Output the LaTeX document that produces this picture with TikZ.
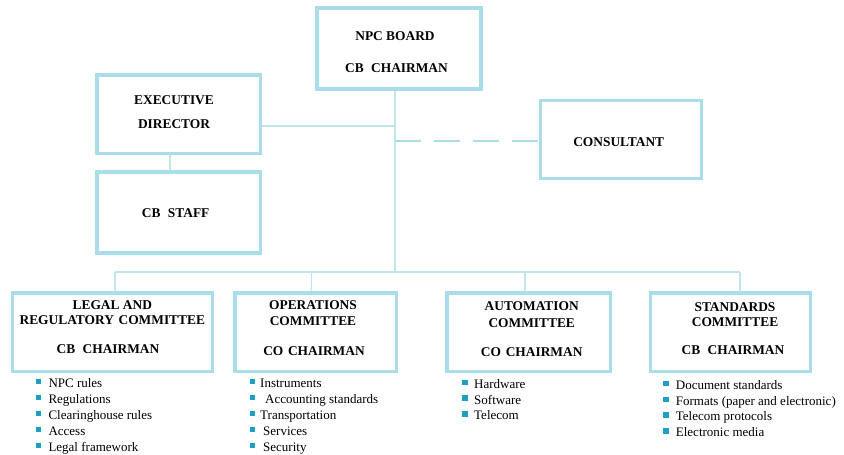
\documentclass[tikz,border=0pt]{standalone}
\usepackage{fontspec}
\setmainfont{Liberation Serif}
\definecolor{boxc}{HTML}{A9DDEA}
\definecolor{linec}{HTML}{BFE6EF}
\definecolor{bulc}{HTML}{1E9EC4}
\tikzset{
  x=1pt,y=-1pt,
  orgbox/.style={draw=boxc,line width=2.4pt,fill=white,inner sep=0pt},
  conn/.style={draw=linec,line width=1.2pt},
  dconn/.style={draw=boxc,line width=2.4pt,dash pattern=on 26pt off 13pt},
  btxt/.style={font=\fontsize{13.4}{16}\selectfont\bfseries,inner sep=0pt,align=center},
  itxt/.style={font=\fontsize{13}{16}\selectfont,inner sep=0pt,anchor=base west},
  bul/.style={fill=bulc,inner sep=0pt,minimum size=5.6pt},
}
\begin{document}
\begin{tikzpicture}
\useasboundingbox[fill=white] (0,0) rectangle (844,455);
% boxes
\node[orgbox,minimum width=163pt,minimum height=80pt] (npc) at (399,48.3) {};
\node[orgbox,minimum width=162pt,minimum height=77pt] (exec) at (178.8,114.2) {};
\node[orgbox,minimum width=162pt,minimum height=80pt] (staff) at (178.8,212.5) {};
\node[orgbox,minimum width=160pt,minimum height=77pt] (cons) at (621,139.5) {};
\node[orgbox,minimum width=199pt,minimum height=77pt] (legal) at (112.5,332.2) {};
\node[orgbox,minimum width=160pt,minimum height=77pt] (ops) at (315.8,332.2) {};
\node[orgbox,minimum width=162pt,minimum height=77pt] (auto) at (528.8,332.2) {};
\node[orgbox,minimum width=159pt,minimum height=77pt] (std) at (730.5,332.2) {};
% connector points
\coordinate (bus) at (395,272);
\coordinate (busL) at (115,272);
\coordinate (busR) at (740,272);
\coordinate (jexec) at (395,126);
\coordinate (jcons) at (395,140.7);
\draw[conn] (npc.south -| bus) -- (bus);
\draw[conn] (busL) -- (busR);
\draw[conn] (busL) -- (legal.north -| busL);
\draw[conn] (bus -| 311.7,0) -- (ops.north -| 311.7,0);
\draw[conn] (bus -| 525,0) -- (auto.north -| 525,0);
\draw[conn] (busR) -- (std.north -| busR);
\draw[conn] (jexec) -- (exec.east |- jexec);
\draw[conn] (exec.south -| 170,0) -- (staff.north -| 170,0);
\draw[dconn] (jcons) -- (cons.west |- jcons);
% box borders on top
\foreach \n in {npc,exec,staff,cons,legal,ops,auto,std}{\draw[draw=boxc,line width=2.4pt] (\n.north west) rectangle (\n.south east);}
% box texts
\node[btxt] (t1) at (395,36) {NPC BOARD};
\node[btxt] (t2) at (396.5,68) {CB\hspace{0.55em}CHAIRMAN};
\node[btxt] (t3) at (174,100.3) {EXECUTIVE};
\node[btxt] (t4) at (174,123.7) {DIRECTOR};
\node[btxt] (t5) at (175.7,213.3) {CB\hspace{0.55em}STAFF};
\node[btxt] (t6) at (618.7,141.8) {CONSULTANT};
\node[btxt] (t7) at (112.3,305) {LEGAL AND};
\node[btxt] (t8) at (112.3,319.7) {REGULATORY\hspace{0.1em} COMMITTEE};
\node[btxt] (t9) at (108,349.5) {CB\hspace{0.55em}CHAIRMAN};
\node[btxt] (t10) at (313,305.3) {OPERATIONS};
\node[btxt] (t11) at (313,320.7) {COMMITTEE};
\node[btxt] (t12) at (314,351) {CO\hspace{0.35em}CHAIRMAN};
\node[btxt] (t13) at (531.7,306) {AUTOMATION};
\node[btxt] (t14) at (531.7,323.5) {COMMITTEE};
\node[btxt] (t15) at (531.7,352) {CO\hspace{0.35em}CHAIRMAN};
\node[btxt] (t16) at (735,307) {STANDARDS};
\node[btxt] (t17) at (735,322) {COMMITTEE};
\node[btxt] (t18) at (733,350) {CB\hspace{0.55em}CHAIRMAN};
% lists
\foreach \t [count=\i] in {NPC rules,Regulations,Clearinghouse rules,Access,Legal framework}{
  \node[bul] (la\i) at (38.5,381.3+16*\i-16) {};
  \node[itxt] (lt\i) at (48.3,387.3+16*\i-16) {\t};
}
\foreach \t/\dx [count=\i] in {Instruments/0,Accounting standards/5,Transportation/0,Services/3,Security/3}{
  \node[bul] (oa\i) at (252.5,381.3+16*\i-16) {};
  \node[itxt] (ot\i) at (260+\dx,387.3+16*\i-16) {\t};
}
\foreach \t [count=\i] in {Hardware,Software,Telecom}{
  \node[bul] (aa\i) at (465,382.5+15.7*\i-15.7) {};
  \node[itxt] (at\i) at (474,388.3+15.7*\i-15.7) {\t};
}
\foreach \t [count=\i] in {Document standards,Formats (paper and electronic),Telecom protocols,Electronic media}{
  \node[bul] (sa\i) at (666,383.5+15.8*\i-15.8) {};
  \node[itxt] (st\i) at (675.7,389.3+15.8*\i-15.8) {\t};
}
\end{tikzpicture}
\end{document}
